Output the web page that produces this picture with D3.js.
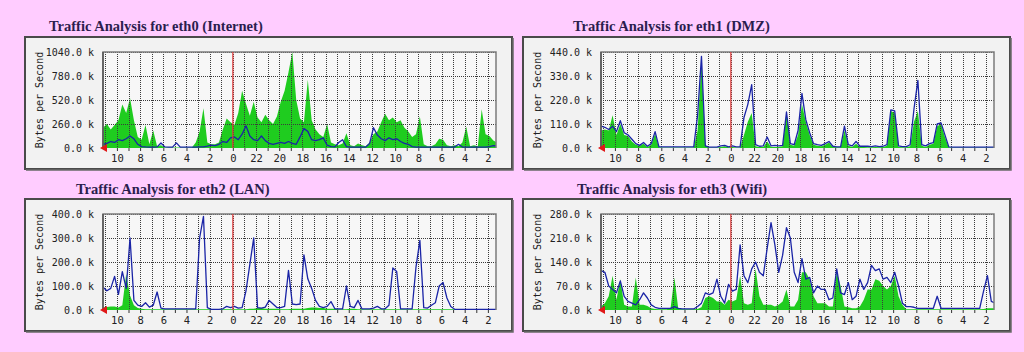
<!DOCTYPE html>
<html>
<head>
<meta charset="utf-8">
<script src="https://cdn.jsdelivr.net/npm/d3@7"></script>
<style>
  html, body { margin: 0; padding: 0; background: #ffccff; }
  svg { display: block; }
</style>
</head>
<body>
<div id="chart"></div>
<script>
// MRTG-style daily traffic graphs, four interfaces.
// Time runs right-to-left: newest sample on the left edge.

const STEP_H = 1 / 3      // one sample every 20 minutes
const NOW_CLOCK = 11.2    // clock hour at the left edge of every plot
const SPAN_H = 33.9       // hours shown across the plot

const hourLabels = [10, 8, 6, 4, 2, 0, 22, 20, 18, 16, 14, 12, 10, 8, 6, 4, 2]

const titles = [
  "Traffic Analysis for eth0 (Internet)",
  "Traffic Analysis for eth1 (DMZ)",
  "Traffic Analysis for eth2 (LAN)",
  "Traffic Analysis for eth3 (Wifi)",
]

const yTicks = [
  [0, 260, 520, 780, 1040],
  [0, 110, 220, 330, 440],
  [0, 100, 200, 300, 400],
  [0, 70, 140, 210, 280],
]

// values in kBytes/s, index 0 = newest
const eth0In = [
  220, 260, 200, 250, 300, 470, 380, 540, 300, 120,
  90, 250, 40, 190, 20, 30, 5, 5, 5, 5,
  5, 5, 5, 5, 60, 180, 430, 60, 40, 40,
  60, 200, 320, 280, 250, 380, 620, 480, 350, 500,
  330, 280, 360, 300, 260, 340, 500, 620, 820, 1040,
  520, 320, 280, 740, 300, 200, 150, 120, 260, 60,
  40, 30, 50, 160, 30, 20, 50, 30, 20, 60,
  150, 180, 280, 370, 300, 330, 280, 300, 220, 180,
  120, 150, 340, 40, 20, 20, 40, 100, 90, 30,
  20, 30, 20, 60, 230, 20, 30, 20, 420, 150,
  130, 80, 60,
]
const eth0Out = [
  40, 50, 70, 60, 90, 80, 100, 130, 100, 40,
  15, 12, 10, 10, 12, 55, 12, 10, 10, 55,
  10, 10, 10, 10, 10, 12, 12, 20, 30, 25,
  40, 70, 60, 110, 120, 90, 150, 240, 130, 90,
  80, 130, 80, 50, 40, 50, 60, 50, 70, 50,
  40, 120, 210, 180, 90, 80, 90, 110, 30, 15,
  12, 60, 90, 15, 10, 10, 10, 10, 10, 50,
  220, 140, 100, 80, 110, 90, 100, 70, 50, 40,
  15, 10, 10, 10, 10, 10, 10, 10, 10, 10,
  10, 10, 40, 10, 10, 10, 10, 10, 10, 10,
  15, 25, 20,
]

const eth1In = [
  80, 85, 80, 150, 60, 110, 60, 55, 30, 15,
  10, 20, 5, 15, 65, 3, 2, 2, 2, 2,
  2, 2, 2, 2, 2, 80, 400, 10, 2, 2,
  2, 5, 8, 3, 5, 2, 2, 60, 120, 160,
  8, 5, 5, 30, 5, 5, 5, 8, 160, 15,
  10, 60, 200, 120, 60, 15, 10, 8, 15, 25,
  5, 3, 3, 80, 10, 5, 20, 5, 5, 3,
  3, 5, 3, 5, 10, 170, 160, 5, 3, 3,
  8, 120, 170, 10, 5, 15, 20, 100, 110, 50,
  3, 2, 2, 2, 2, 2, 2, 2, 2, 2,
  2, 2, 2,
]
const eth1Out = [
  100, 95, 85, 100, 75, 125, 70, 60, 40, 20,
  12, 25, 8, 20, 75, 5, 5, 5, 5, 5,
  5, 5, 5, 5, 5, 150, 420, 10, 4, 4,
  4, 10, 12, 5, 10, 5, 5, 140, 200, 290,
  15, 8, 10, 50, 10, 12, 10, 12, 165, 20,
  15, 80, 250, 130, 70, 20, 15, 12, 20, 30,
  8, 5, 5, 100, 15, 10, 30, 8, 8, 8,
  6, 10, 6, 8, 15, 175, 170, 10, 6, 6,
  15, 180, 310, 15, 10, 20, 25, 110, 115, 60,
  5, 4, 4, 4, 4, 4, 4, 4, 4, 4,
  4, 4, 4,
]

const eth2In = [
  10, 12, 15, 15, 10, 20, 150, 60, 20, 8,
  5, 3, 3, 3, 3, 3, 3, 3, 3, 3,
  3, 3, 3, 3, 3, 3, 3, 3, 3, 3,
  3, 3, 3, 3, 3, 3, 3, 3, 5, 5,
  8, 8, 5, 5, 5, 5, 3, 3, 3, 5,
  5, 5, 5, 8, 10, 10, 8, 8, 5, 5,
  5, 3, 3, 3, 5, 5, 3, 3, 3, 3,
  3, 3, 3, 3, 3, 3, 3, 3, 3, 3,
  3, 3, 3, 3, 3, 3, 3, 3, 3, 3,
  3, 3, 3, 3, 3, 3, 3, 3, 3, 3,
  3, 3, 3,
]
const eth2Out = [
  95, 80, 90, 140, 65, 160, 90, 300, 40, 20,
  15, 30, 12, 20, 75, 8, 5, 5, 5, 5,
  5, 5, 5, 5, 5, 300, 390, 10, 3, 3,
  3, 5, 15, 10, 15, 8, 10, 80, 190, 300,
  10, 8, 12, 40, 25, 10, 10, 15, 165, 25,
  22, 25, 230, 130, 90, 40, 15, 10, 15, 35,
  5, 5, 5, 100, 15, 10, 40, 5, 5, 5,
  8, 15, 5, 5, 20, 175, 160, 5, 5, 5,
  5, 180, 290, 10, 8, 20, 30, 100, 115, 50,
  15, 3, 3, 3, 3, 3, 3, 3, 3, 3,
  3, 3, 3,
]

const eth3In = [
  10, 20, 40, 100, 30, 90, 15, 10, 10, 95,
  15, 15, 12, 5, 3, 2, 2, 2, 5, 95,
  3, 2, 2, 2, 2, 3, 8, 35, 40, 35,
  25, 25, 15, 30, 25, 30, 100, 20, 15, 20,
  120, 40, 15, 15, 15, 10, 15, 25, 60, 10,
  10, 30, 110, 110, 90, 40, 20, 20, 20, 10,
  10, 110, 70, 10, 8, 5, 5, 10, 30, 60,
  60, 90, 85, 70, 60, 70, 100, 40, 15, 2,
  2, 2, 2, 2, 2, 2, 2, 2, 2, 2,
  2, 2, 2, 2, 2, 2, 2, 2, 2, 3,
  5, 5, 5,
]
const eth3Out = [
  115, 110, 70, 60, 50, 85, 40, 25, 20, 15,
  30, 50, 35, 15, 8, 5, 5, 5, 5, 10,
  5, 3, 3, 3, 3, 10, 20, 50, 45, 50,
  90, 40, 20, 75, 55, 60, 190, 100, 80, 120,
  140, 110, 100, 180, 255, 190, 110, 160, 240, 210,
  110, 80, 150, 90, 95, 50, 70, 60, 60, 30,
  35, 120, 50, 45, 80, 30, 40, 90, 60, 80,
  130, 115, 120, 90, 95, 80, 110, 70, 20, 10,
  10, 8, 5, 5, 5, 5, 5, 40, 5, 5,
  5, 5, 5, 5, 5, 5, 5, 5, 5, 55,
  100, 25, 20,
]

const seriesIn = [eth0In, eth1In, eth2In, eth3In]
const seriesOut = [eth0Out, eth1Out, eth2Out, eth3Out]

// --- layout ---
const W = 1024, H = 352
const FRAME_W = 487, FRAME_H = 132
const PLOT = { left: 78, top: 15, width: 393, height: 96 }
const panels = [
  { x: 25, y: 37, tx: 49, ty: 31 },
  { x: 523, y: 37, tx: 573, ty: 31 },
  { x: 25, y: 199, tx: 76, ty: 194 },
  { x: 523, y: 199, tx: 577, ty: 194 },
]

const C = {
  bg: "#ffccff",
  frame: "#f2f2f2",
  frameEdge: "#4a4a4a",
  plotBg: "#f7f7f7",
  grid: "#3a3a3a",
  inFill: "#1fcc1f",
  outLine: "#1a24a6",
  midnight: "#e03a3a",
  text: "#222",
  title: "#2b1d4e",
}
const MONO = "'DejaVu Sans Mono', monospace"

const svg = d3.select("#chart").append("svg")
  .attr("width", W).attr("height", H)
svg.append("rect").attr("width", W).attr("height", H).attr("fill", C.bg)

const x = d3.scaleLinear().domain([0, SPAN_H]).range([0, PLOT.width])
const labelPos = hourLabels.map((_, k) => NOW_CLOCK - hourLabels[0] + 2 * k)
const hourPos = d3.range(NOW_CLOCK % 1, SPAN_H, 1)

panels.forEach((p, idx) => {
  svg.append("text")
    .attr("x", p.tx).attr("y", p.ty)
    .attr("font-family", "'Liberation Serif', 'Times New Roman', serif")
    .attr("font-weight", "bold").attr("font-size", 14.5)
    .attr("fill", C.title)
    .text(titles[idx])

  const g = svg.append("g").attr("transform", `translate(${p.x},${p.y})`)

  // bevelled frame
  g.append("rect")
    .attr("x", 0).attr("y", 0).attr("width", FRAME_W).attr("height", FRAME_H)
    .attr("fill", C.frame).attr("stroke", C.frameEdge).attr("stroke-width", 2)
  g.append("path")
    .attr("d", `M1,${FRAME_H + 1}H${FRAME_W + 1}V1`)
    .attr("fill", "none").attr("stroke", "#6a6a6a").attr("stroke-width", 1.5)

  // y label
  g.append("text")
    .attr("transform", `translate(${PLOT.left - 63},${PLOT.top + PLOT.height / 2}) rotate(-90)`)
    .attr("text-anchor", "middle")
    .attr("dominant-baseline", "middle")
    .attr("font-family", MONO).attr("font-size", 10)
    .attr("fill", C.text)
    .text("Bytes per Second")

  const y = d3.scaleLinear().domain([0, d3.max(yTicks[idx])]).range([PLOT.height, 0])
  const pg = g.append("g").attr("transform", `translate(${PLOT.left},${PLOT.top})`)

  pg.append("rect")
    .attr("width", PLOT.width).attr("height", PLOT.height)
    .attr("fill", C.plotBg)

  const clipId = `clip${idx}`
  pg.append("clipPath").attr("id", clipId)
    .append("rect").attr("width", PLOT.width).attr("height", PLOT.height + 1)

  const area = d3.area()
    .x((_, i) => x(i * STEP_H))
    .y0(y(0))
    .y1(d => y(d))
  pg.append("path")
    .datum(seriesIn[idx])
    .attr("clip-path", `url(#${clipId})`)
    .attr("fill", C.inFill)
    .attr("d", area)

  // dotted grid, hourly verticals + value rows
  pg.append("g")
    .call(d3.axisBottom(x).tickValues(hourPos).tickSize(PLOT.height).tickFormat(""))
    .call(s => s.select(".domain").remove())
    .call(s => s.selectAll("line")
      .attr("stroke", C.grid).attr("stroke-dasharray", "1,1").attr("shape-rendering", "crispEdges"))
  pg.append("g")
    .call(d3.axisLeft(y).tickValues(yTicks[idx].slice(1)).tickSize(-PLOT.width).tickFormat(""))
    .call(s => s.select(".domain").remove())
    .call(s => s.selectAll("line")
      .attr("stroke", C.grid).attr("stroke-dasharray", "1,1").attr("shape-rendering", "crispEdges"))

  const line = d3.line()
    .x((_, i) => x(i * STEP_H))
    .y(d => y(d))
  pg.append("path")
    .datum(seriesOut[idx])
    .attr("clip-path", `url(#${clipId})`)
    .attr("fill", "none")
    .attr("stroke", C.outLine).attr("stroke-width", 1.3)
    .attr("stroke-linejoin", "round")
    .attr("d", line)

  // plot border
  pg.append("path")
    .attr("d", `M0,${PLOT.height}V0H${PLOT.width}V${PLOT.height}`)
    .attr("fill", "none").attr("stroke", "#7c7c7c").attr("stroke-width", 1.5)
  pg.append("line")
    .attr("x1", 0).attr("x2", 0).attr("y1", 0).attr("y2", PLOT.height)
    .attr("stroke", "#555").attr("stroke-width", 1.5)

  // midnight marker
  pg.append("line")
    .attr("x1", x(NOW_CLOCK)).attr("x2", x(NOW_CLOCK))
    .attr("y1", 0).attr("y2", PLOT.height)
    .attr("stroke", C.midnight).attr("stroke-width", 1.2)

  // hour tick marks under the axis
  pg.append("g")
    .attr("transform", `translate(0,${PLOT.height})`)
    .call(d3.axisBottom(x).tickValues(hourPos).tickSize(3).tickFormat(""))
    .call(s => s.select(".domain").remove())
    .call(s => s.selectAll("line").attr("stroke", "#333"))

  // hour labels
  pg.append("g")
    .attr("transform", `translate(0,${PLOT.height})`)
    .call(d3.axisBottom(x).tickValues(labelPos).tickSize(0).tickPadding(7)
      .tickFormat((_, k) => hourLabels[k]))
    .call(s => s.select(".domain").remove())
    .call(s => s.selectAll("text")
      .attr("font-family", MONO).attr("font-size", 10.5).attr("fill", C.text))

  // value labels
  pg.append("g")
    .call(d3.axisLeft(y).tickValues(yTicks[idx]).tickSize(0).tickPadding(9)
      .tickFormat(v => `${v.toFixed(1)} k`))
    .call(s => s.select(".domain").remove())
    .call(s => s.selectAll("text")
      .attr("font-family", MONO).attr("font-size", 10).attr("fill", C.text))

  // red arrow at the origin
  pg.append("path")
    .attr("d", `M-3,${PLOT.height}L4,${PLOT.height - 4}L4,${PLOT.height + 4}Z`)
    .attr("fill", "#e01818")
})
</script>
</body>
</html>
